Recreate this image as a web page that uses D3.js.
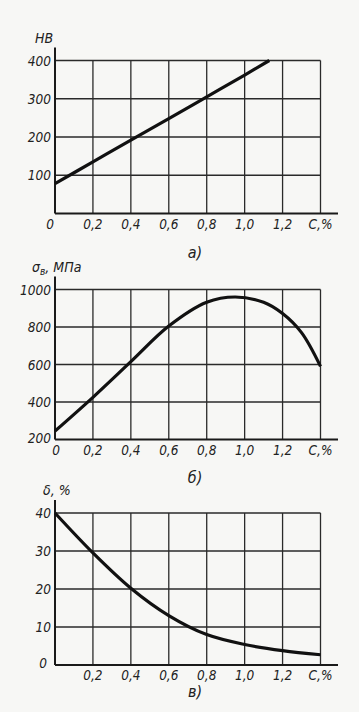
<!DOCTYPE html>
<html>
<head>
<meta charset="utf-8">
<script src="https://cdn.jsdelivr.net/npm/d3@7"></script>
<style>
  body { margin: 0; background: #f7f7f5; }
  svg text { font-family: "DejaVu Sans Condensed", "DejaVu Sans", sans-serif; font-style: italic; fill: #222; }
</style>
</head>
<body>
<svg width="359" height="712"></svg>
<script>
// carbon content, %
const carbonTicks = [0, 0.2, 0.4, 0.6, 0.8, 1.0, 1.2, 1.4];

// a) hardness HB
const hbCarbon = [0, 0.2, 0.4, 0.6, 0.8, 1.0, 1.13];
const hbValues = [78, 135, 192, 248, 305, 362, 400];
const hbTicks = [0, 100, 200, 300, 400];

// б) tensile strength, MPa
const sigmaCarbon = [0, 0.2, 0.4, 0.6, 0.8, 0.95, 1.1, 1.2, 1.3, 1.4];
const sigmaValues = [245, 425, 615, 805, 932, 960, 932, 872, 770, 590];
const sigmaTicks = [200, 400, 600, 800, 1000];

// в) elongation, %
const deltaCarbon = [0, 0.2, 0.4, 0.6, 0.8, 1.0, 1.2, 1.4];
const deltaValues = [40, 29.5, 20.2, 13, 8, 5.4, 3.8, 2.7];
const deltaTicks = [0, 10, 20, 30, 40];

const svg = d3.select("svg");

function fmt(v) {
    return v === 0 ? "0" : d3.format(".1f")(v).replace(".", ",");
}

function panel(opts) {
    const x = d3.scaleLinear().domain([0, 1.4]).range([55, 320.5]);
    const y = d3.scaleLinear().domain(opts.domain).range([opts.bottom, opts.top]);
    const g = svg.append("g");

    // grid
    g.selectAll(".vg")
        .data(carbonTicks.slice(1))
        .enter()
        .append("line")
        .attr("x1", d => x(d)).attr("x2", d => x(d))
        .attr("y1", y(opts.domain[0])).attr("y2", y(opts.domain[1]))
        .attr("stroke", "#2a2a2a")
        .attr("stroke-width", 1.3);

    g.selectAll(".hg")
        .data(opts.ticks.slice(1))
        .enter()
        .append("line")
        .attr("x1", x(0)).attr("x2", x(1.4))
        .attr("y1", d => y(d)).attr("y2", d => y(d))
        .attr("stroke", "#2a2a2a")
        .attr("stroke-width", 1.3);

    // axes, a bit longer than the grid
    g.append("line")
        .attr("x1", x(0)).attr("x2", x(0))
        .attr("y1", y(opts.domain[0])).attr("y2", opts.top - 13)
        .attr("stroke", "#1a1a1a").attr("stroke-width", 2);
    g.append("line")
        .attr("x1", x(0)).attr("x2", 338)
        .attr("y1", y(opts.domain[0])).attr("y2", y(opts.domain[0]))
        .attr("stroke", "#1a1a1a").attr("stroke-width", 2);

    // y tick labels
    g.selectAll(".yl")
        .data(opts.yLabels)
        .enter()
        .append("text")
        .attr("x", d => d === opts.domain[0] && opts.cornerX ? opts.cornerX : 51)
        .attr("y", d => y(d) + (d === opts.domain[0] ? 3 : 5))
        .attr("text-anchor", "end")
        .style("font-size", "13.5px")
        .text(d => d);

    // x tick labels
    g.selectAll(".xl")
        .data(opts.xLabels)
        .enter()
        .append("text")
        .attr("x", d => d === 0 ? x(0) + opts.zeroDx : x(d))
        .attr("y", y(opts.domain[0]) + 15)
        .attr("text-anchor", "middle")
        .style("font-size", "13.5px")
        .text(d => d === 1.4 ? "C,%" : fmt(d));

    // curve
    const line = d3.line()
        .x(d => x(d[0]))
        .y(d => y(d[1]))
        .curve(d3.curveCatmullRom);
    g.append("path")
        .datum(d3.zip(opts.cx, opts.cy))
        .attr("d", line)
        .attr("fill", "none")
        .attr("stroke", "#111")
        .attr("stroke-width", 3.2);

    // axis title
    const t = g.append("text")
        .attr("x", opts.titleX)
        .attr("y", opts.top - 18)
        .style("font-size", "14px");
    opts.title(t);

    // panel letter
    g.append("text")
        .attr("x", 195)
        .attr("y", opts.letterY)
        .attr("text-anchor", "middle")
        .style("font-size", "16px")
        .text(opts.letter);
}

panel({
    domain: [0, 400], top: 60.5, bottom: 213.5,
    ticks: hbTicks, yLabels: hbTicks.slice(1), xLabels: carbonTicks, zeroDx: -5,
    cx: hbCarbon, cy: hbValues,
    titleX: 35, title: t => t.text("НВ"),
    letter: "а)", letterY: 258
});

panel({
    domain: [200, 1000], top: 289.5, bottom: 439.5,
    ticks: sigmaTicks, yLabels: sigmaTicks, xLabels: carbonTicks, zeroDx: 1,
    cx: sigmaCarbon, cy: sigmaValues,
    titleX: 32, title: t => {
        t.append("tspan").text("σ");
        t.append("tspan").attr("dy", 3).style("font-size", "10px").text("в");
        t.append("tspan").attr("dy", -3).text(", МПа");
    },
    letter: "б)", letterY: 483
});

panel({
    domain: [0, 40], top: 513, bottom: 665,
    ticks: deltaTicks, yLabels: deltaTicks, xLabels: carbonTicks.slice(1), zeroDx: 0,
    cx: deltaCarbon, cy: deltaValues, cornerX: 47,
    titleX: 43, title: t => t.text("δ, %"),
    letter: "в)", letterY: 697
});
</script>
</body>
</html>
